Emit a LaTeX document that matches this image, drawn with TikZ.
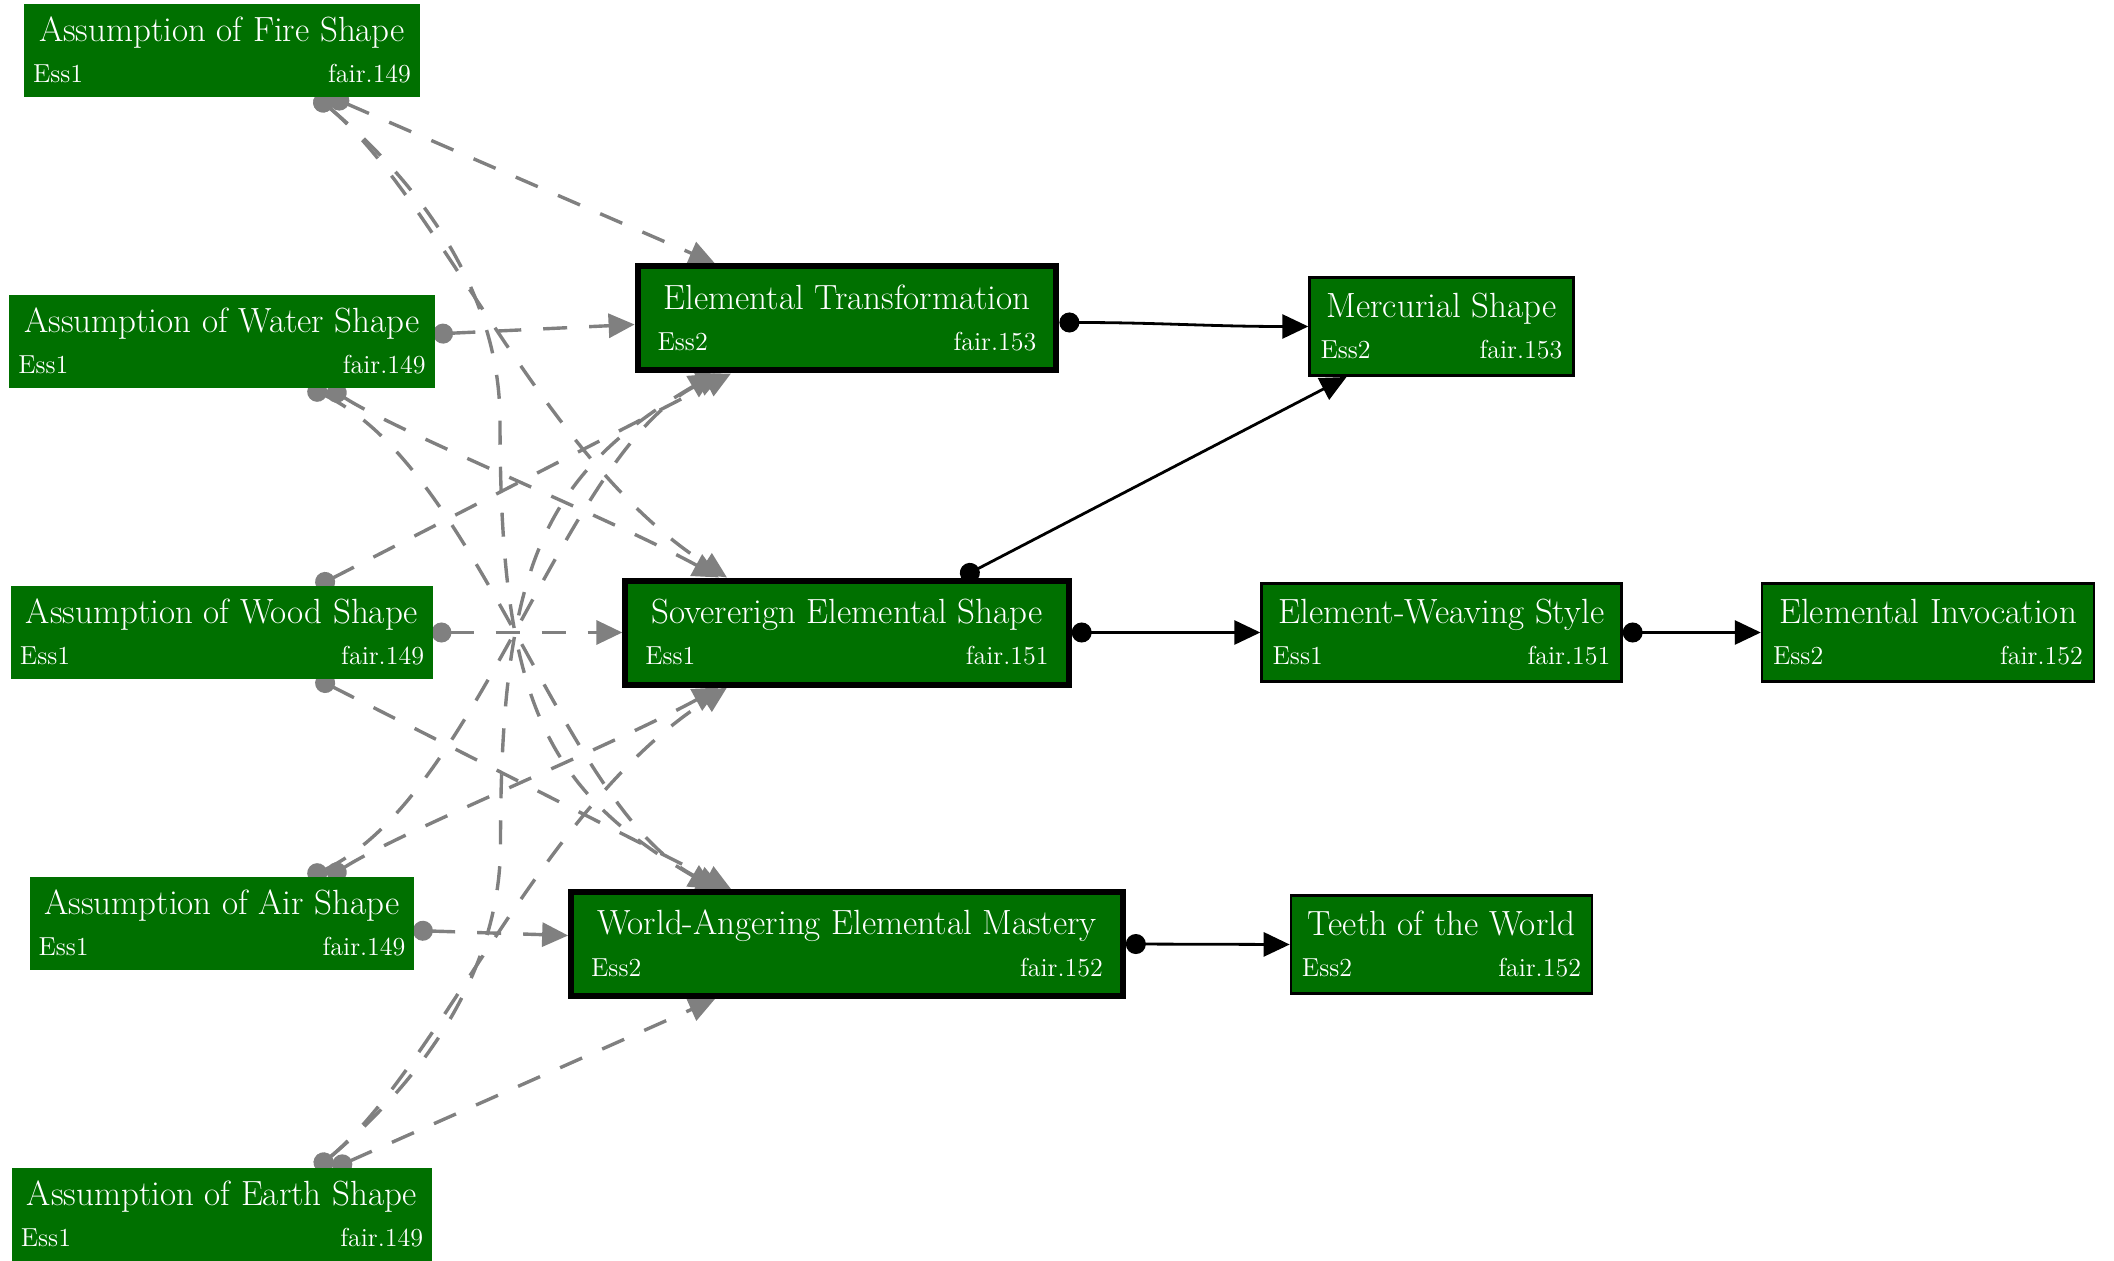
\documentclass[tikz,border=0pt]{standalone}
\usepackage{tikz}
\usetikzlibrary{arrows.meta,positioning,backgrounds}

\definecolor{charmgreen}{RGB}{0,112,0}

\newcommand{\titlefont}{\fontsize{17.5}{19}\selectfont}
% title on top, essence left and source right underneath
\newcommand{\charm}[3]{%
  \begin{tabular}{@{}l@{\hspace{20pt}}r@{}}
    \multicolumn{2}{@{\hspace{3pt}}c@{\hspace{3pt}}}{\titlefont\rule{0pt}{14.5pt}#1}\\[8.7pt]
    #2 & #3
  \end{tabular}}

\begin{document}
\begin{tikzpicture}[
  x=0.5pt, y=-0.5pt,
  on grid,
  charm/.style={fill=charmgreen, text=white, inner xsep=4.5pt, inner ysep=0pt,
    font=\fontsize{13}{10}\selectfont},
  root/.style={charm, minimum height=46.5pt},
  core/.style={charm, draw=black, line width=3pt, inner xsep=10pt, minimum height=52pt},
  leaf/.style={charm, draw=black, line width=1.3pt, inner xsep=5.5pt, minimum height=49.2pt},
  dep/.style={draw=gray, line width=1.7pt, dash pattern=on 12pt off 11pt,
    {Circle[length=10pt]}-{Triangle[length=13pt,width=12pt]}, shorten <=-1pt},
  req/.style={draw=black, line width=1.4pt,
    {Circle[length=10pt]}-{Triangle[length=13pt,width=12pt]}}
]
% the five elemental shapes
\node[root] (fire) {\charm{Assumption of Fire Shape}{Ess1}{fair.149}};
\node[root, below=145.5pt of fire] (water) {\charm{Assumption of Water Shape}{Ess1}{fair.149}};
\node[root, below=145.5pt of water] (wood) {\charm{Assumption of Wood Shape}{Ess1}{fair.149}};
\node[root, below=145.5pt of wood] (air) {\charm{Assumption of Air Shape}{Ess1}{fair.149}};
\node[root, below=145.5pt of air] (earth) {\charm{Assumption of Earth Shape}{Ess1}{fair.149}};

% charms that need all five
\node[core, right=312.5pt of wood] (sov) {\charm{Sovererign Elemental Shape}{Ess1}{fair.151}};
\node[core, above=157pt of sov] (trans) {\charm{Elemental Transformation}{Ess2}{fair.153}};
\node[core, below=155.75pt of sov] (mastery) {\charm{World-Angering Elemental Mastery}{Ess2}{fair.152}};

\node[leaf, right=297.25pt of sov] (weave) {\charm{Element-Weaving Style}{Ess1}{fair.151}};
\node[leaf, above=153pt of weave] (merc) {\charm{Mercurial Shape}{Ess2}{fair.153}};
\node[leaf, below=156pt of weave] (teeth) {\charm{Teeth of the World}{Ess2}{fair.152}};
\node[leaf, right=243.25pt of weave] (invoc) {\charm{Elemental Invocation}{Ess2}{fair.152}};

\useasboundingbox ([shift={(-111pt,25.25pt)}]fire.center) rectangle ++(1057pt,-630.5pt);

\begin{scope}[on background layer]
% fire
\draw[dep] ([xshift=55pt]fire.south) -- ([xshift=-66pt]trans.north);
\draw[dep] ([xshift=47.5pt]fire.south) .. controls +(123,103) and +(-187,-120) .. ([xshift=-60pt]sov.north);
\draw[dep] ([xshift=47.5pt]fire.south) .. controls +(123,103) and +(0,-110) .. ++(183,323)
  .. controls +(0,280) and +(-170,-100) .. ([xshift=-66pt]mastery.north);
% water
\draw[dep] ([yshift=3.75pt]water.east) -- ([yshift=-3pt]trans.west);
\draw[dep] ([xshift=54pt]water.south) .. controls +(70,45) and +(-110,-60) .. ([xshift=-64pt]sov.north);
\draw[dep] ([xshift=44pt]water.south) .. controls +(170,80) and +(-157,-71) .. ([xshift=-62pt]mastery.north);
% wood
\draw[dep] ([xshift=48pt]wood.north) -- ([xshift=-58pt]trans.south);
\draw[dep] (wood.east) -- (sov.west);
\draw[dep] ([xshift=48pt]wood.south) -- ([xshift=-58pt]mastery.north);
% air
\draw[dep] ([xshift=44pt]air.north) .. controls +(170,-80) and +(-157,71) .. ([xshift=-62pt]trans.south);
\draw[dep] ([xshift=54pt]air.north) .. controls +(70,-45) and +(-110,60) .. ([xshift=-64pt]sov.south);
\draw[dep] ([yshift=-3.5pt]air.east) -- ([yshift=4.25pt]mastery.west);
% earth
\draw[dep] ([xshift=47.75pt]earth.north) .. controls +(123,-103) and +(0,110) .. ++(183,-323)
  .. controls +(0,-280) and +(-170,100) .. ([xshift=-66pt]trans.south);
\draw[dep] ([xshift=47.75pt]earth.north) .. controls +(123,-103) and +(-187,120) .. ([xshift=-60pt]sov.south);
\draw[dep] ([xshift=56.5pt]earth.north) -- ([xshift=-66pt]mastery.south);

% later charms
\draw[req] ([yshift=-2pt]trans.east) to[out=0, in=180] (merc.west);
\draw[req] ([xshift=57pt]sov.north) -- ([xshift=-47.5pt]merc.south);
\draw[req] (sov.east) -- (weave.west);
\draw[req] (weave.east) -- (invoc.west);
\draw[req] (mastery.east) -- (teeth.west);
\end{scope}
\end{tikzpicture}
\end{document}
